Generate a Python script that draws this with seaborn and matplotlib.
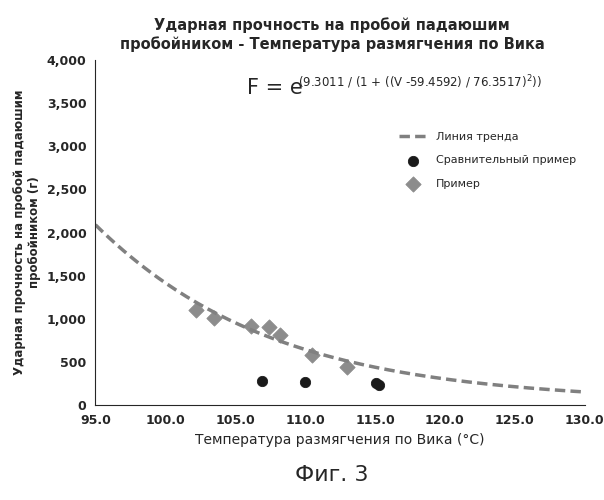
import numpy as np
import pandas as pd
import matplotlib
matplotlib.use("Agg")
import matplotlib.pyplot as plt
import seaborn as sns
from matplotlib.ticker import FuncFormatter

# Data
ex_x = [102.2, 103.5, 106.1, 107.4, 108.2, 110.5, 113.0]
ex_y = [1100, 1010, 920, 900, 810, 580, 440]
cmp_x = [106.9, 110.0, 115.1, 115.3]
cmp_y = [280, 270, 250, 230]
# Trend equation parameters shown on the chart
A, B, C = 9.3011, 59.4592, 76.3517
trend_v = np.linspace(95, 130, 141)
trend_f = np.exp(A / (1 + ((trend_v - B) / C) ** 2))

sns.set_style("white")
fig = plt.figure(figsize=(6.04, 5.0), dpi=100)
ax = fig.add_axes([0.158, 0.19, 0.81, 0.69])

sns.lineplot(x=trend_v, y=trend_f, ax=ax, color="#808080", lw=2.5,
             linestyle=(0, (3, 1.5)), label="Линия тренда")
sns.scatterplot(x=cmp_x, y=cmp_y, ax=ax, color="#1a1a1a", s=55, marker="o",
                edgecolor="#1a1a1a", label="Сравнительный пример")
sns.scatterplot(x=ex_x, y=ex_y, ax=ax, color="#8c8c8c", s=60, marker="D",
                edgecolor="#8c8c8c", label="Пример")

ax.set_xlim(95, 130)
ax.set_ylim(0, 4000)
ax.set_xticks(np.arange(95, 131, 5))
ax.set_yticks(np.arange(0, 4001, 500))
ax.xaxis.set_major_formatter(FuncFormatter(lambda v, p: f"{v:.1f}"))
ax.yaxis.set_major_formatter(FuncFormatter(lambda v, p: f"{int(v):,}"))
ax.tick_params(labelsize=9, length=3, direction="out")
for lab in ax.get_xticklabels() + ax.get_yticklabels():
    lab.set_fontweight("bold")
for s in ["top", "right"]:
    ax.spines[s].set_visible(False)
ax.set_xlabel("Температура размягчения по Вика (°C)", fontsize=10)
ax.set_ylabel("Ударная прочность на пробой падаюшим\nпробойником (г)", fontsize=8.5,
              fontweight="bold")

leg = ax.legend(loc="upper left", bbox_to_anchor=(0.6, 0.82), frameon=False,
                fontsize=8, handlelength=2.5, labelspacing=1.2)

ax.text(0.31, 0.92, "F = e", transform=ax.transAxes, fontsize=15, va="center")
ax.text(0.415, 0.935, "(9.3011 / (1 + ((V -59.4592) / 76.3517)$^2$))",
        transform=ax.transAxes, fontsize=8.5, va="center")

fig.text(0.55, 0.965, "Ударная прочность на пробой падаюшим\nпробойником - Температура размягчения по Вика",
         ha="center", va="top", fontsize=10.5, fontweight="bold")
fig.text(0.55, 0.05, "Фиг. 3", ha="center", va="center", fontsize=16)

fig.savefig("out.png", dpi=100)
